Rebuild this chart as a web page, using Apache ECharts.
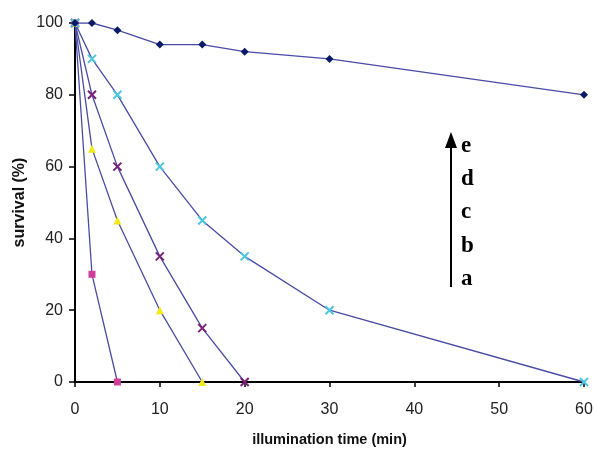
<!DOCTYPE html>
<html>
<head>
<meta charset="utf-8">
<style>
    html,body{margin:0;padding:0;background:#fff;}
    #survivalChart{width:595px;height:449px;}
</style>
<script src="https://cdn.jsdelivr.net/npm/echarts@6/dist/echarts.min.js"></script>
</head>
<body>
<div id="survivalChart"></div>
<script>
    // illumination time (min) -> survival (%)
    var timeA = [0, 2, 5];
    var survA = [100, 30, 0];
    var timeB = [0, 2, 5, 10, 15];
    var survB = [100, 65, 45, 20, 0];
    var timeC = [0, 2, 5, 10, 15, 20];
    var survC = [100, 80, 60, 35, 15, 0];
    var timeD = [0, 2, 5, 10, 15, 20, 30, 60];
    var survD = [100, 90, 80, 60, 45, 35, 20, 0];
    var timeE = [0, 2, 5, 10, 15, 20, 30, 60];
    var survE = [100, 100, 98, 94, 94, 92, 90, 80];
    var arrowLabels = ['e', 'd', 'c', 'b', 'a'];

    function pairs(xs, ys){
        var out = [];
        for(var i = 0; i < xs.length; i++){
            out.push([xs[i], ys[i]]);
        }
        return out;
    }

    var lineColor = '#4a4aa8';
    var crossPath = 'path://M0,0 L10,10 M10,0 L0,10';

    function makeSeries(name, xs, ys, symbol, size, color){
        var s = {
            name: name,
            type: 'line',
            data: pairs(xs, ys),
            symbol: symbol,
            symbolSize: size,
            lineStyle: {color: lineColor, width: 1.3},
            itemStyle: {color: color},
            z: 3
        };
        if(symbol === crossPath){
            s.itemStyle = {color: 'none', borderColor: color, borderWidth: 2};
        }
        return s;
    }

    var labelGraphics = arrowLabels.map(function(t, i){
        return {
            type: 'text',
            x: 461,
            y: 146 + i * 33.2,
            style: {
                text: t,
                font: 'bold 23px "Liberation Serif", "DejaVu Serif", serif',
                fill: '#000',
                verticalAlign: 'middle'
            }
        };
    });

    var chart = echarts.init(document.getElementById('survivalChart'));
    chart.setOption({
        animation: false,
        grid: {left: 75, right: 11, top: 23, bottom: 67, outerBoundsMode: 'none', containLabel: false},
        xAxis: {
            type: 'value',
            min: 0,
            max: 60,
            interval: 10,
            name: 'illumination time (min)',
            nameLocation: 'middle',
            nameGap: 50,
            nameTextStyle: {fontFamily: 'Liberation Sans', fontWeight: 'bold', fontSize: 14.5, color: '#111'},
            axisLine: {lineStyle: {color: '#000', width: 2}},
            axisTick: {show: true, length: 5, lineStyle: {color: '#000', width: 1.5}},
            axisLabel: {fontFamily: 'Liberation Sans', fontSize: 16, color: '#222', margin: 20},
            splitLine: {show: false}
        },
        yAxis: {
            type: 'value',
            min: 0,
            max: 100,
            interval: 20,
            name: 'survival (%)',
            nameLocation: 'middle',
            nameGap: 47,
            nameRotate: 90,
            nameMoveOverlap: false,
            nameTextStyle: {fontFamily: 'Liberation Sans', fontWeight: 'bold', fontSize: 16, color: '#111'},
            axisLine: {show: true, lineStyle: {color: '#000', width: 2}},
            axisTick: {show: true, length: 6, lineStyle: {color: '#000', width: 1.5}},
            axisLabel: {fontFamily: 'Liberation Sans', fontSize: 16, color: '#222', margin: 12},
            splitLine: {show: false}
        },
        series: [
            makeSeries('a', timeA, survA, 'rect', 7, '#d13d9c'),
            makeSeries('b', timeB, survB, 'triangle', 8, '#f2ea1c'),
            makeSeries('c', timeC, survC, crossPath, 8, '#7a1f7a'),
            makeSeries('d', timeD, survD, crossPath, 8, '#4cc7e0'),
            makeSeries('e', timeE, survE, 'diamond', 8, '#0b1a66')
        ],
        graphic: [
            {
                type: 'line',
                shape: {x1: 451, y1: 287, x2: 451, y2: 146},
                style: {stroke: '#000', lineWidth: 2}
            },
            {
                type: 'polygon',
                shape: {points: [[445, 148], [457, 148], [451, 132]]},
                style: {fill: '#000'}
            }
        ].concat(labelGraphics)
    });
</script>
</body>
</html>
